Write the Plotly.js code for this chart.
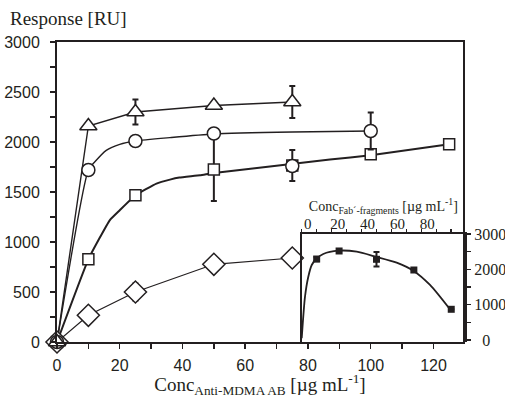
<!DOCTYPE html>
<html>
<head>
<meta charset="utf-8">
<script src="https://cdn.plot.ly/plotly-3.0.1.min.js"></script>
<style>
  html, body { margin: 0; padding: 0; background: #fff; }
  #chart { width: 505px; height: 398px; }
</style>
</head>
<body>
<div id="chart"></div>
<script>
// Binding response of the whole antibody at several concentrations (main panel)
const concTri = [0, 10, 25, 50, 75];
const respTri = [0, 2160, 2300, 2365, 2400];
const errTri = [0, 0, 125, 0, 160];

const concCirc = [0, 10, 25, 50, 75, 100];
const respCirc = [0, 1720, 2010, 2085, 1760, 2110];
const errCirc = [0, 40, 40, 0, 0, 185];
const fitCircX = [0, 10, 12, 15.7, 20, 25, 36, 50, 75, 100];
const fitCircY = [0, 1720, 1800, 1917, 1977, 2010, 2044, 2080, 2100, 2110];

const concSq = [0, 10, 25, 50, 75, 100, 125];
const respSq = [0, 827, 1467, 1724, 1765, 1877, 1977];
const errSq = [0, 40, 0, 315, 155, 0, 0];
const fitSqX = [0, 10, 16.8, 20, 25, 31.7, 36, 39, 45.6, 50, 87, 100, 125];
const fitSqY = [0, 827, 1217, 1317, 1467, 1584, 1624, 1644, 1667, 1690, 1824, 1867, 1977];

const concDia = [0, 10, 25, 50, 75];
const respDia = [0, 267, 500, 777, 840];
const errDia = [0, 40, 85, 0, 0];

// Fab'-fragment response (inset)
const concFab = [10, 25, 50, 75, 100];
const respFab = [2292, 2519, 2284, 1981, 869];
const errFab = [60, 0, 205, 0, 0];
const fitFabX = [0, 2.2, 4.4, 6.7, 9.6, 14.4, 24.5, 36.8, 49.5, 63.5, 74.6, 85.8, 99.1];
const fitFabY = [48, 1225, 1791, 2123, 2292, 2434, 2527, 2499, 2357, 2188, 1961, 1557, 869];

const mainXTicks = [0, 20, 40, 60, 80, 100, 120];
const insetXTicks = [0, 20, 40, 60, 80];
const insetXTickText = ['0', '20', '40', '60', '80'];
const insetYTicks = [0, 1000, 2000, 3000];
const insetYTickText = ['\u20070', '1000', '2000', '3000'];

const INK = '#231f20';
const SERIF = '"Liberation Serif", "Times New Roman", serif';
const SANS = '"Liberation Sans", Arial, sans-serif';

function errBars(arr) {
  return { type: 'data', array: arr, visible: true, color: INK, thickness: 2, width: 3 };
}
function markerTrace(x, y, err, symbol, size, xa, ya) {
  return {
    x: x, y: y, type: 'scatter', mode: 'markers', cliponaxis: false,
    xaxis: xa || 'x', yaxis: ya || 'y',
    error_y: errBars(err),
    marker: { symbol: symbol, size: size, color: '#fff', line: { color: INK, width: 1.5 } },
    hoverinfo: 'x+y'
  };
}

const traces = [
  // connecting / fitted lines
  { x: concTri, y: respTri, type: 'scatter', mode: 'lines', cliponaxis: false,
    line: { color: INK, width: 1.4 }, hoverinfo: 'skip' },
  { x: fitCircX, y: fitCircY, type: 'scatter', mode: 'lines', cliponaxis: false,
    line: { color: INK, width: 1.4, shape: 'spline', smoothing: 0.6 }, hoverinfo: 'skip' },
  { x: fitSqX, y: fitSqY, type: 'scatter', mode: 'lines', cliponaxis: false,
    line: { color: INK, width: 2, shape: 'spline', smoothing: 0.35 }, hoverinfo: 'skip' },
  { x: concDia, y: respDia, type: 'scatter', mode: 'lines', cliponaxis: false,
    line: { color: INK, width: 1.2 }, hoverinfo: 'skip' },

  // measured points
  markerTrace(concSq, respSq, errSq, 'square', 11),
  markerTrace(concDia, respDia, errDia, 'diamond', 17),
  markerTrace(concCirc, respCirc, errCirc, 'circle', 13),
  markerTrace(concTri, respTri, errTri, 'triangle-up', 15),

  // inset
  { x: fitFabX, y: fitFabY, type: 'scatter', mode: 'lines', xaxis: 'x2', yaxis: 'y2',
    cliponaxis: false, line: { color: INK, width: 1.8, shape: 'spline', smoothing: 0.7 },
    hoverinfo: 'skip' },
  { x: concFab, y: respFab, type: 'scatter', mode: 'markers', xaxis: 'x2', yaxis: 'y2',
    cliponaxis: false, error_y: errBars(errFab),
    marker: { symbol: 'square', size: 7, color: INK }, hoverinfo: 'x+y' }
];

const layout = {
  width: 505, height: 398,
  margin: { l: 57, r: 40, t: 42, b: 56, pad: 0 },
  paper_bgcolor: '#fff', plot_bgcolor: 'rgba(0,0,0,0)',
  showlegend: false,
  font: { family: SANS, color: INK, size: 16 },
  title: {
    text: 'Response [RU]',
    font: { family: SERIF, size: 19, color: INK },
    xref: 'container', yref: 'container',
    x: 10 / 505, xanchor: 'left', y: 1 - 18 / 398, yanchor: 'middle'
  },
  xaxis: {
    domain: [0, 0.995], range: [0, 129.4],
    showline: true, linecolor: INK, linewidth: 2, mirror: true,
    showgrid: false, zeroline: false,
    ticks: 'outside', ticklen: 5, tickwidth: 1.5, tickcolor: INK,
    tickmode: 'array', tickvals: mainXTicks,
    minor: { dtick: 10, tick0: 0, ticks: 'outside', ticklen: 5, tickwidth: 1.5, tickcolor: INK, showgrid: false },
    tickfont: { family: SANS, size: 16, color: INK },
    ticklabelstandoff: 3,
    title: {
      text: 'Conc<sub>Anti-MDMA AB</sub> [µg mL<sup>-1</sup>]',
      font: { family: SERIF, size: 19, color: INK },
      standoff: 6
    }
  },
  yaxis: {
    domain: [0, 1], range: [0, 3000],
    showline: true, linecolor: INK, linewidth: 2, mirror: true,
    showgrid: false, zeroline: false,
    ticks: 'outside', ticklen: 5, tickwidth: 1.5, tickcolor: INK,
    dtick: 500, tick0: 0,
    minor: { dtick: 250, tick0: 0, ticks: 'outside', ticklen: 5, tickwidth: 1.5, tickcolor: INK, showgrid: false },
    tickfont: { family: SANS, size: 16, color: INK },
    ticklabelstandoff: 7
  },
  xaxis2: {
    anchor: 'y2', side: 'top',
    domain: [0.5998, 1], range: [0, 109.2],
    showline: true, linecolor: INK, linewidth: 2,
    showgrid: false, zeroline: false,
    ticks: 'outside', ticklen: 3, tickwidth: 1.5, tickcolor: INK,
    tickmode: 'array', tickvals: insetXTicks, ticktext: insetXTickText,
    minor: { dtick: 10, tick0: 0, ticks: 'outside', ticklen: 3, tickwidth: 1.5, tickcolor: INK, showgrid: false },
    tickfont: { family: SERIF, size: 15, color: INK },
    ticklabelshift: 6, ticklabelstandoff: -6,
    title: {
      text: 'Conc<sub>Fab´-fragments</sub> [µg mL<sup>-1</sup>]',
      font: { family: SERIF, size: 14, color: INK },
      standoff: 0
    }
  },
  yaxis2: {
    anchor: 'x2', side: 'right',
    domain: [0, 0.36], range: [-57, 3000],
    showline: true, linecolor: INK, linewidth: 2, mirror: true,
    showgrid: false, zeroline: false,
    ticks: 'outside', ticklen: 4, tickwidth: 1.5, tickcolor: INK,
    tickmode: 'array', tickvals: insetYTicks, ticktext: insetYTickText,
    minor: { dtick: 500, tick0: 0, ticks: 'outside', ticklen: 4, tickwidth: 1.5, tickcolor: INK, showgrid: false },
    tickfont: { family: SERIF, size: 16, color: INK },
    ticklabelstandoff: 0
  },
  shapes: [
    // white backing for the inset panel
    { type: 'rect', xref: 'x2 domain', yref: 'y2 domain', x0: 0, x1: 1, y0: 0, y1: 1,
      fillcolor: '#fff', line: { width: 0 }, layer: 'below' }
  ]
};

Plotly.newPlot('chart', traces, layout, { displayModeBar: false, staticPlot: true });
</script>
</body>
</html>
